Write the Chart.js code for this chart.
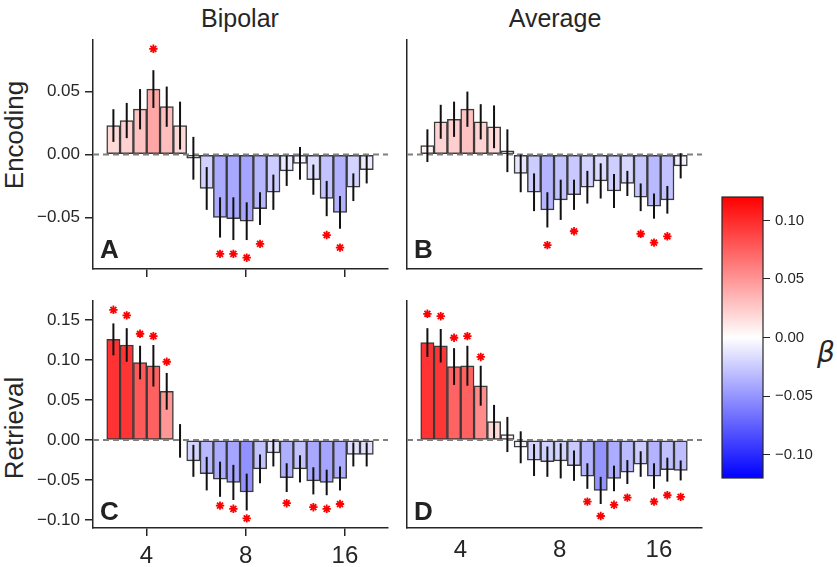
<!DOCTYPE html>
<html>
<head>
<meta charset="utf-8">
<script src="https://cdn.jsdelivr.net/npm/chart.js@4.4.1/dist/chart.umd.min.js"></script>
<style>
  body { margin: 0; width: 837px; height: 567px; overflow: hidden; background: #fff;
         font-family: "Liberation Sans", Arial, sans-serif; position: relative; }
  canvas { position: absolute; }
  .lbl { position: absolute; color: #262626; white-space: nowrap; transform: translate(-50%, -50%); font-size: 25px; }
  .rot { transform: translate(-50%, -50%) rotate(-90deg); font-size: 26px; }
</style>
</head>
<body>
<div class="lbl" style="left:240px; top:18px;">Bipolar</div>
<div class="lbl" style="left:555px; top:18px;">Average</div>
<div class="lbl rot" style="left:14px; top:135px;">Encoding</div>
<div class="lbl rot" style="left:14px; top:428px;">Retrieval</div>
<div class="lbl" style="left:826px; top:352px; font-family:'DejaVu Sans'; font-style:italic; font-size:28px;">β</div>

<canvas id="panelA"></canvas>
<canvas id="panelB"></canvas>
<canvas id="panelC"></canvas>
<canvas id="panelD"></canvas>
<canvas id="cbar"></canvas>

<script>
// ─── Data ───
// frequency (Hz) of each of the 20 bars, log spaced
const freqs = [3.18, 3.49, 3.83, 4.20, 4.61, 5.06, 5.56, 6.10, 6.69, 7.34,
               8.06, 8.84, 9.71, 10.65, 11.69, 12.83, 14.08, 15.46, 16.96, 18.62];
const xTickFreqs = [4, 8, 16];
const encTicks  = [-0.05, 0, 0.05];
const retTicks  = [-0.10, -0.05, 0, 0.05, 0.10, 0.15];
const cbarTicks = [-0.10, -0.05, 0, 0.05, 0.10];

const encBipolar    = [0.023, 0.027, 0.036, 0.052, 0.038, 0.023, -0.003, -0.027, -0.050, -0.051,
                       -0.053, -0.043, -0.030, -0.013, -0.007, -0.020, -0.035, -0.046, -0.026, -0.012];
const encBipolarErr = [0.013, 0.014, 0.016, 0.015, 0.016, 0.019, 0.017, 0.017, 0.016, 0.017,
                       0.015, 0.013, 0.014, 0.012, 0.013, 0.012, 0.014, 0.013, 0.011, 0.011];
const encBipolarSig = [null, null, null, 0.084, null, null, null, null, -0.079, -0.079,
                       -0.082, -0.071, null, null, null, null, -0.064, -0.074, null, null];

const encAverage    = [0.007, 0.026, 0.028, 0.036, 0.026, 0.022, 0.003, -0.015, -0.030, -0.044,
                       -0.036, -0.032, -0.026, -0.021, -0.029, -0.023, -0.034, -0.041, -0.036, -0.009];
const encAverageErr = [0.013, 0.0135, 0.014, 0.014, 0.014, 0.017, 0.017, 0.015, 0.015, 0.014,
                       0.016, 0.012, 0.013, 0.014, 0.0135, 0.010, 0.011, 0.010, 0.011, 0.010];
const encAverageSig = [null, null, null, null, null, null, null, null, null, -0.072,
                       null, -0.061, null, null, null, null, -0.063, -0.070, -0.065, null];

const retBipolar    = [0.126, 0.119, 0.097, 0.093, 0.061, -0.001, -0.026, -0.042, -0.049, -0.053,
                       -0.065, -0.036, -0.016, -0.047, -0.036, -0.051, -0.053, -0.048, -0.018, -0.018];
const retBipolarErr = [0.020, 0.021, 0.021, 0.026, 0.023, 0.021, 0.020, 0.021, 0.022, 0.022,
                       0.023, 0.018, 0.017, 0.018, 0.017, 0.017, 0.016, 0.015, 0.015, 0.015];
const retBipolarSig = [0.163, 0.156, 0.133, 0.130, 0.098, null, null, null, -0.082, -0.086,
                       -0.098, null, null, -0.079, null, -0.084, -0.086, -0.080, null, null];

const retAverage    = [0.122, 0.118, 0.092, 0.093, 0.068, 0.023, 0.007, -0.009, -0.025, -0.027,
                       -0.026, -0.032, -0.045, -0.063, -0.048, -0.040, -0.030, -0.045, -0.037, -0.038];
const retAverageErr = [0.018, 0.021, 0.023, 0.025, 0.025, 0.021, 0.022, 0.020, 0.020, 0.019,
                       0.022, 0.019, 0.016, 0.017, 0.016, 0.015, 0.016, 0.016, 0.015, 0.0125];
const retAverageSig = [0.158, 0.155, 0.128, 0.130, 0.104, null, null, null, null, null,
                       null, null, -0.077, -0.095, -0.081, -0.072, null, -0.077, -0.069, -0.071];

// ─── Helpers ───
const VMAX = 0.12;
const INK = '#262626';

// matplotlib "bwr" colormap, bars drawn at alpha 0.8 over white
function barColor(v) {
  const t = Math.max(-1, Math.min(1, v / VMAX));
  let rgb = t >= 0 ? [1, 1 - t, 1 - t] : [1 + t, 1 + t, 1];
  rgb = rgb.map(c => Math.round((c * 0.8 + 0.2) * 255));
  return `rgb(${rgb[0]},${rgb[1]},${rgb[2]})`;
}

// fractional bar index of a frequency (log interpolation between bars)
function freqToPos(f) {
  for (let i = 0; i < freqs.length - 1; i++) {
    if (f >= freqs[i] && f <= freqs[i + 1]) {
      return i + Math.log(f / freqs[i]) / Math.log(freqs[i + 1] / freqs[i]);
    }
  }
  return 0;
}

const fmt = v => (v < -1e-9 ? '\u2212' : '') + Math.abs(v).toFixed(2);

function extrasPlugin(vals, errs, letter, letterOff) {
  return {
    id: 'extras' + letter,
    afterDatasetsDraw(chart) {
      const { ctx, chartArea, scales: { x, y } } = chart;
      ctx.save();
      // zero line
      ctx.strokeStyle = '#7f7f7f';
      ctx.lineWidth = 2;
      ctx.setLineDash([6, 4]);
      ctx.beginPath();
      ctx.moveTo(chartArea.left, y.getPixelForValue(0));
      ctx.lineTo(chartArea.right, y.getPixelForValue(0));
      ctx.stroke();
      ctx.setLineDash([]);
      // error bars
      ctx.strokeStyle = '#111';
      ctx.lineWidth = 2;
      vals.forEach((v, i) => {
        const px = x.getPixelForValue(i);
        ctx.beginPath();
        ctx.moveTo(px, y.getPixelForValue(v - errs[i]));
        ctx.lineTo(px, y.getPixelForValue(v + errs[i]));
        ctx.stroke();
      });
      // panel letter
      ctx.fillStyle = '#222';
      ctx.font = 'bold 26px "Liberation Sans", Arial, sans-serif';
      ctx.textBaseline = 'alphabetic';
      ctx.fillText(letter, chartArea.left + 7, chartArea.bottom - letterOff);
      ctx.restore();
    }
  };
}

function makePanel(id, box, vals, errs, sig, o) {
  const cv = document.getElementById(id);
  const W = box.right - box.left + 80, H = box.bottom - box.top + 48;
  cv.width = W; cv.height = H;
  cv.style.width = W + 'px'; cv.style.height = H + 'px';
  cv.style.left = (box.left - 70) + 'px';
  cv.style.top = (box.top - 8) + 'px';

  const stars = [];
  sig.forEach((s, i) => { if (s !== null) stars.push({ x: i, y: s }); });

  new Chart(cv, {
    type: 'bar',
    data: {
      datasets: [
        {
          type: 'bar',
          data: vals.map((v, i) => ({ x: i, y: v })),
          backgroundColor: vals.map(barColor),
          borderColor: '#3a3a3a',
          borderWidth: 1.5,
          borderSkipped: false,
          barPercentage: 1,
          categoryPercentage: 1,
          order: 2
        },
        {
          type: 'scatter',
          data: stars,
          pointStyle: 'star',
          radius: 4.2,
          borderWidth: 1.8,
          borderColor: '#ff0000',
          backgroundColor: '#ff0000',
          order: 1
        }
      ]
    },
    options: {
      responsive: false,
      devicePixelRatio: 1,
      animation: false,
      layout: { padding: { left: 0, top: 8, right: 10, bottom: 0 } },
      plugins: { legend: { display: false }, tooltip: { enabled: false } },
      scales: {
        x: {
          type: 'linear',
          min: -1.53, max: 20.6,
          offset: false,
          afterBuildTicks: s => { s.ticks = xTickFreqs.map(f => ({ value: freqToPos(f) })); },
          ticks: {
            display: o.xLabels,
            autoSkip: false, maxRotation: 0,
            callback: (v, i) => String(xTickFreqs[i]),
            color: INK,
            padding: o.xMarks ? 6 : 8,
            font: { family: '"Liberation Sans", Arial, sans-serif', size: 24 }
          },
          grid: { display: true, offset: false, drawOnChartArea: false, drawTicks: o.xMarks,
                  tickLength: 8, color: INK, lineWidth: 1.5 },
          border: { display: true, color: INK, width: 1.5 },
          afterFit: s => { s.height = 40; s.paddingLeft = 0; s.paddingRight = 0; }
        },
        y: {
          min: o.ymin, max: o.ymax,
          afterBuildTicks: s => { s.ticks = o.yTicks.map(v => ({ value: v })); },
          ticks: {
            display: o.yLabels,
            callback: v => fmt(v),
            color: INK,
            padding: 5,
            font: { family: '"Liberation Sans", Arial, sans-serif', size: 17 }
          },
          grid: { display: true, drawOnChartArea: false, drawTicks: o.yLabels,
                  tickLength: 8, color: INK, lineWidth: 1.5 },
          border: { display: true, color: INK, width: 1.5 },
          afterFit: s => { s.width = 70; s.paddingTop = 0; s.paddingBottom = 0; }
        }
      }
    },
    plugins: [extrasPlugin(vals, errs, o.letter, o.letterOff)]
  });
}

const topRow = { ymin: -0.091, ymax: 0.091, yTicks: encTicks };
const botRow = { ymin: -0.110, ymax: 0.174, yTicks: retTicks };

makePanel('panelA', { left: 93, top: 40, right: 388, bottom: 269 }, encBipolar, encBipolarErr, encBipolarSig,
  Object.assign({ letter: 'A', letterOff: 11, xLabels: false, xMarks: true, yLabels: true }, topRow));
makePanel('panelB', { left: 407, top: 40, right: 702, bottom: 269 }, encAverage, encAverageErr, encAverageSig,
  Object.assign({ letter: 'B', letterOff: 11, xLabels: false, xMarks: false, yLabels: false }, topRow));
makePanel('panelC', { left: 93, top: 301, right: 388, bottom: 528 }, retBipolar, retBipolarErr, retBipolarSig,
  Object.assign({ letter: 'C', letterOff: 8, xLabels: true, xMarks: true, yLabels: true }, botRow));
makePanel('panelD', { left: 407, top: 301, right: 702, bottom: 528 }, retAverage, retAverageErr, retAverageSig,
  Object.assign({ letter: 'D', letterOff: 8, xLabels: true, xMarks: false, yLabels: false }, botRow));

// ─── Colorbar ───
(function () {
  const cv = document.getElementById('cbar');
  cv.width = 137; cv.height = 300;
  cv.style.width = '137px'; cv.style.height = '300px';
  cv.style.left = '700px'; cv.style.top = '187px';

  const gradPlugin = {
    id: 'cbarGrad',
    beforeDatasetsDraw(chart) {
      const { ctx, chartArea: a } = chart;
      const g = ctx.createLinearGradient(0, a.top, 0, a.bottom);
      g.addColorStop(0, 'rgb(255,0,0)');
      g.addColorStop(0.5, 'rgb(255,255,255)');
      g.addColorStop(1, 'rgb(0,0,255)');
      ctx.save();
      ctx.fillStyle = g;
      ctx.fillRect(a.left, a.top, a.right - a.left, a.bottom - a.top);
      ctx.strokeStyle = INK;
      ctx.lineWidth = 1.2;
      ctx.strokeRect(a.left, a.top, a.right - a.left, a.bottom - a.top);
      ctx.restore();
    }
  };

  new Chart(cv, {
    type: 'scatter',
    data: { datasets: [] },
    options: {
      responsive: false,
      devicePixelRatio: 1,
      animation: false,
      layout: { padding: { left: 22, top: 10, right: 0, bottom: 9 } },
      plugins: { legend: { display: false }, tooltip: { enabled: false } },
      scales: {
        x: { display: false },
        y: {
          position: 'right',
          min: -VMAX, max: VMAX,
          afterBuildTicks: s => { s.ticks = cbarTicks.map(v => ({ value: v })); },
          ticks: {
            callback: v => fmt(v),
            color: INK,
            padding: 5,
            font: { family: '"Liberation Sans", Arial, sans-serif', size: 15 }
          },
          grid: { display: true, drawOnChartArea: false, drawTicks: true, tickLength: 7, color: INK, lineWidth: 1 },
          border: { display: false },
          afterFit: s => { s.width = 74; s.paddingTop = 0; s.paddingBottom = 0; }
        }
      }
    },
    plugins: [gradPlugin]
  });
})();
</script>
</body>
</html>
